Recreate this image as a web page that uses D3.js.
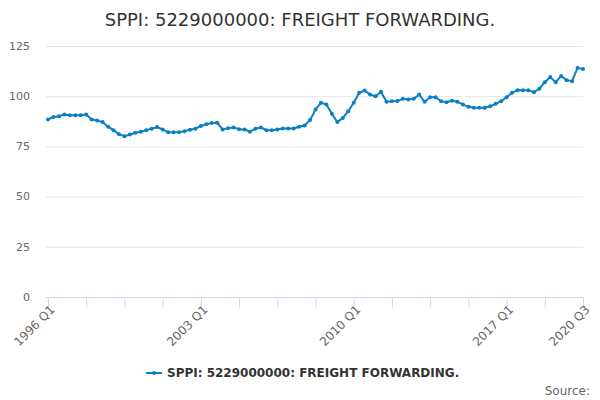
<!DOCTYPE html>
<html>
<head>
<meta charset="utf-8">
<script src="https://cdn.jsdelivr.net/npm/d3@7"></script>
<style>
  body { margin: 0; background: #fff; }
  text { font-family: "DejaVu Sans", Verdana, sans-serif; }
</style>
</head>
<body>
<svg id="chart" width="600" height="400"></svg>
<script>
const title = "SPPI: 5229000000: FREIGHT FORWARDING.";
const seriesName = "SPPI: 5229000000: FREIGHT FORWARDING.";

// quarterly categories 1996 Q1 .. 2020 Q3
const quarters = [];
for (let y = 1996; y <= 2020; y++) {
  for (let q = 1; q <= 4; q++) {
    if (y === 2020 && q > 3) break;
    quarters.push(`${y} Q${q}`);
  }
}

const values = [
  88.4, 89.7, 90.0, 90.9, 90.5, 90.5, 90.5, 90.9, 88.4, 87.9,
  87.1, 84.8, 83.1, 81.1, 80.1, 80.9, 81.8, 82.3, 83.1, 83.8,
  84.6, 83.4, 82.1, 82.0, 82.0, 82.6, 83.3, 83.8, 85.2, 86.0,
  86.7, 86.8, 83.4, 84.1, 84.4, 83.6, 83.4, 82.3, 83.8, 84.4,
  83.1, 83.0, 83.4, 83.9, 83.9, 83.9, 84.8, 85.4, 88.1, 93.4,
  96.7, 95.9, 91.2, 87.1, 89.2, 92.5, 96.7, 101.7, 102.8, 100.8,
  100.0, 102.2, 97.2, 97.5, 97.6, 98.7, 98.4, 98.7, 100.8, 97.2,
  99.5, 99.5, 97.5, 97.0, 97.7, 97.2, 95.9, 94.7, 94.2, 94.2,
  94.2, 95.0, 96.2, 97.5, 99.5, 101.7, 103.0, 103.0, 103.0, 102.0,
  103.7, 107.0, 109.5, 107.0, 110.0, 108.0, 107.5, 114.1, 113.6
];

const yTicks = [0, 25, 50, 75, 100, 125];
const xLabelTicks = ["1996 Q1", "2003 Q1", "2010 Q1", "2017 Q1", "2020 Q3"];

const color = "#0a7fc2";
const margin = {top: 46, right: 17, bottom: 103, left: 48};
const width = 600, height = 400;

const svg = d3.select("#chart");

const x = d3.scalePoint()
    .domain(quarters)
    .range([margin.left, width - margin.right]);

const y = d3.scaleLinear()
    .domain([0, 125])
    .range([height - margin.bottom, margin.top]);

// title
svg.append("text")
    .attr("x", width / 2)
    .attr("y", 26)
    .attr("text-anchor", "middle")
    .attr("fill", "#333")
    .style("font-size", "18px")
    .text(title);

// grid
svg.append("g")
  .selectAll("line")
  .data(yTicks.filter(d => d > 0))
  .join("line")
    .attr("x1", margin.left - 2)
    .attr("x2", width - margin.right)
    .attr("y1", d => y(d) + 0.5)
    .attr("y2", d => y(d) + 0.5)
    .attr("stroke", "#e6e6e6");

// y axis labels
svg.append("g")
  .selectAll("text")
  .data(yTicks)
  .join("text")
    .attr("x", 30)
    .attr("y", d => y(d))
    .attr("dy", "0.35em")
    .attr("text-anchor", "end")
    .attr("fill", "#666")
    .style("font-size", "11px")
    .text(d => d);

// x axis
const xAxis = d3.axisBottom(x)
    .tickValues(quarters.filter((d, i) => i % 7 === 0))
    .tickSize(10)
    .tickFormat(d => xLabelTicks.includes(d) ? d : "");

const gx = svg.append("g")
    .attr("transform", `translate(0,${y(0) + 0.5})`)
    .call(xAxis);
gx.select(".domain")
    .attr("d", `M${margin.left - 2},0H${width - margin.right}`)
    .attr("stroke", "#ccd6eb");
gx.selectAll(".tick line").attr("stroke", "#ccd6eb");
gx.selectAll(".tick text")
    .attr("fill", "#666")
    .style("font-size", "12px")
    .style("font-family", "DejaVu Sans, sans-serif")
    .attr("text-anchor", "end")
    .attr("x", 0)
    .attr("y", 0)
    .attr("dy", "0.35em")
    .attr("transform", "translate(4,10) rotate(-45)");

// line
const line = d3.line()
    .x((d, i) => x(quarters[i]))
    .y(d => y(d));

svg.append("path")
    .datum(values)
    .attr("fill", "none")
    .attr("stroke", color)
    .attr("stroke-width", 2)
    .attr("stroke-linejoin", "round")
    .attr("d", line);

svg.append("g")
  .selectAll("circle")
  .data(values)
  .join("circle")
    .attr("cx", (d, i) => x(quarters[i]))
    .attr("cy", d => y(d))
    .attr("r", 2)
    .attr("fill", color);

// legend
const legend = svg.append("g").attr("transform", "translate(146,373)");
legend.append("line")
    .attr("x1", 0).attr("x2", 16)
    .attr("stroke", color)
    .attr("stroke-width", 2);
legend.append("circle")
    .attr("cx", 8).attr("r", 2)
    .attr("fill", color);
legend.append("text")
    .attr("x", 21)
    .attr("dy", "0.35em")
    .attr("fill", "#333")
    .style("font-size", "12px")
    .attr("font-weight", "bold")
    .text(seriesName);

// credits
svg.append("text")
    .attr("x", 590)
    .attr("y", 395)
    .attr("text-anchor", "end")
    .attr("fill", "#666")
    .style("font-size", "12px")
    .text("Source:");
</script>
</body>
</html>
